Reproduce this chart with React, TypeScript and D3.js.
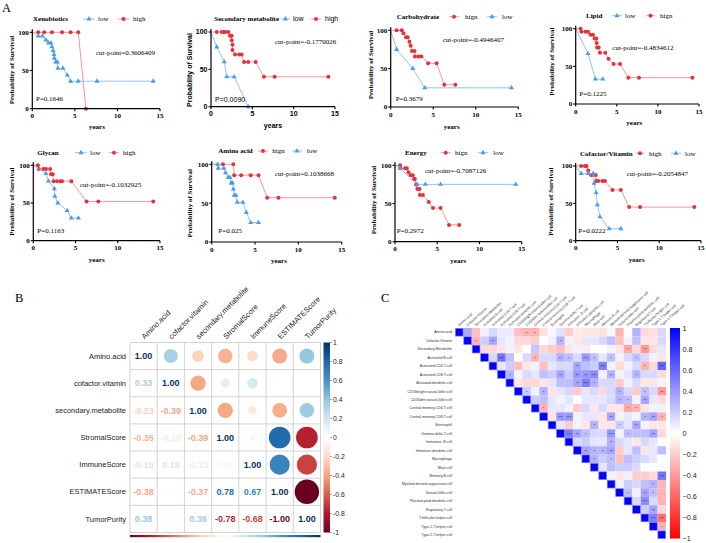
import React from 'react';
import * as d3 from 'd3';

// ================= Panel A: Kaplan-Meier data =================
const kmTitles = ["Xenobiotics", "Secondary metabolite", "Carbohydrate", "Lipid", "Glycan", "Amino acid", "Energy", "Cofactor/Vitamin"];
const kmCutpoints = ["cut-point=0.3606409", "cut-point=-0.1770026", "cut-point=-0.4946407", "cut-point=-0.4834612", "cut-point=-0.1032925", "cut-point=0.1038668", "cut-point=-0.7087126", "cut-point=-0.2054847"];
const kmPvalues = ["P=0.1646", "P=0.0090", "P=0.3679", "P=0.1225", "P=0.1163", "P=0.025", "P=0.2972", "P=0.0222"];
const kmHighLabels = ["high", "high", "hign", "hign", "high", "hign", "hign", "high"];
const kmLegendOrder = [["low", "high"], ["low", "high"], ["high", "low"], ["low", "high"], ["low", "high"], ["high", "low"], ["high", "low"], ["high", "low"]];
const kmYTicks = [0, 50, 100];
const kmXTicks = [0, 5, 10, 15];

const kmHigh: number[][][] = [
  [[0, 100], [0.7, 100], [1.4, 100], [2.3, 100], [3.5, 100], [4.5, 100], [5.4, 100], [6.3, 0]],
  [[0, 100], [0.7, 100], [1.3, 100], [1.5, 100], [1.7, 100], [2.1, 100], [2.3, 95], [2.5, 95], [2.5, 89], [2.6, 83], [2.6, 76], [2.9, 70], [3.4, 70], [3.7, 70], [4.0, 60], [4.5, 60], [5.4, 60], [6.4, 40], [7.7, 40], [14.2, 40]],
  [[0, 100], [0.7, 100], [1.3, 100], [1.5, 96], [1.8, 91], [2.0, 91], [2.2, 85], [2.35, 80], [2.5, 73], [2.8, 73], [2.85, 66], [3.25, 66], [3.6, 66], [4.4, 57], [5.4, 57], [6.3, 29], [7.6, 29]],
  [[0, 100], [0.6, 100], [0.7, 96], [1.2, 96], [1.5, 96], [1.8, 92], [2.1, 92], [2.3, 87], [2.5, 87], [2.55, 81], [2.6, 75], [2.8, 75], [2.95, 68], [3.6, 68], [4.0, 60], [4.6, 53], [5.4, 53], [6.4, 35], [7.7, 35], [14.2, 35]],
  [[0, 100], [0.55, 100], [0.65, 95], [1.2, 95], [1.5, 95], [2.0, 95], [2.1, 88], [2.3, 88], [2.4, 79], [2.8, 79], [3.2, 79], [3.4, 79], [4.5, 79], [6.3, 52], [7.7, 52], [14.2, 52]],
  [[0, 100], [1.3, 100], [2.5, 100], [2.6, 86], [3.4, 86], [4.5, 86], [5.4, 86], [6.4, 57], [7.7, 57], [14.2, 57]],
  [[0, 100], [0.6, 100], [0.65, 96], [1.2, 96], [1.4, 96], [1.6, 91], [1.85, 87], [2.1, 87], [2.25, 82], [2.35, 82], [2.5, 75], [2.55, 75], [2.65, 69], [2.9, 69], [2.95, 61], [3.3, 61], [4.0, 52], [4.5, 44], [5.4, 44], [6.4, 22], [7.6, 22]],
  [[0, 100], [0.65, 100], [1.1, 100], [1.3, 100], [1.5, 94], [1.85, 88], [2.1, 88], [2.4, 88], [2.45, 80], [2.7, 80], [3.2, 80], [3.5, 80], [4.4, 68], [5.4, 68], [6.4, 45], [7.7, 45], [14.2, 45]],
];
const kmLow: number[][][] = [
  [[0, 100], [0.7, 95], [1.2, 95], [1.6, 90], [1.9, 86], [2.2, 86], [2.3, 81], [2.45, 76], [2.55, 71], [2.6, 66], [2.75, 61], [2.95, 61], [3.0, 53], [3.6, 53], [4.1, 44], [4.5, 36], [5.4, 36], [7.6, 36], [14.2, 36]],
  [[0, 100], [0.7, 80], [1.6, 60], [1.9, 40], [2.8, 40], [4.5, 0]],
  [[0, 100], [0.7, 75], [2.6, 50], [4.0, 25], [14.2, 25]],
  [[0, 100], [1.5, 67], [2.4, 33], [3.3, 33]],
  [[0, 100], [1.5, 89], [1.8, 79], [2.5, 69], [2.55, 59], [2.9, 50], [4.0, 40], [4.5, 30], [5.35, 30]],
  [[0, 100], [0.7, 100], [0.75, 95], [1.4, 95], [1.6, 89], [1.9, 83], [2.1, 83], [2.25, 76], [2.4, 76], [2.5, 68], [2.6, 60], [2.8, 60], [2.95, 51], [3.6, 51], [4.0, 38], [4.5, 25], [5.4, 25]],
  [[0, 100], [0.6, 96], [2.6, 75], [3.6, 75], [5.4, 75], [14.3, 75]],
  [[0, 100], [0.65, 90], [1.5, 90], [2.1, 90], [2.2, 77], [2.45, 64], [2.6, 48], [2.9, 32], [4.0, 16], [5.4, 16]],
];

// ================= Panel B: correlation matrix =================
const bVars = ["Amino.acid", "cofactor.vitamin", "secondary.metabolite", "StromalScore", "ImmuneScore", "ESTIMATEScore", "TumorPurity"];
const bCorr: number[][] = [
  [1, 0.33, -0.23, -0.35, -0.19, -0.38, 0.38],
  [0.33, 1, -0.39, -0.13, 0.18, 0.02, -0.01],
  [-0.23, -0.39, 1, -0.39, -0.12, -0.37, 0.36],
  [-0.35, -0.13, -0.39, 1, 0.06, 0.78, -0.78],
  [-0.19, 0.18, -0.12, 0.06, 1, 0.67, -0.68],
  [-0.38, 0.02, -0.37, 0.78, 0.67, 1, -1.0],
  [0.38, -0.01, 0.36, -0.78, -0.68, -1.0, 1],
];
const bLegendTicks = [1, 0.8, 0.6, 0.4, 0.2, 0, -0.2, -0.4, -0.6, -0.8, -1];
const bPalette = ["#67001F", "#B2182B", "#D6604D", "#F4A582", "#FDDBC7", "#FFFFFF", "#D1E5F0", "#92C5DE", "#4393C3", "#2166AC", "#053061"];

// ================= Panel C: metabolism vs immune cells =================
const cVars = ["Amino.acid", "Cofactor.Vitamin", "Secondary.Metabolite", "Activated.B.cell", "Activated.CD4.T.cell", "Activated.CD8.T.cell", "Activated.dendritic.cell", "CD56bright.natural.killer.cell", "CD56dim.natural.killer.cell", "Central.memory.CD4.T.cell", "Central.memory.CD8.T.cell", "Eosinophil", "Gamma.delta.T.cell", "Immature..B.cell", "Immature.dendritic.cell", "Macrophage", "Mast.cell", "Memory.B.cell", "Myeloid.derived.suppressor.cell", "Natural.killer.cell", "Plasmacytoid.dendritic.cell", "Regulatory.T.cell", "T.follicular.helper.cell", "Type.1.T.helper.cell", "Type.2.T.helper.cell"];
// values to the right of the diagonal, row by row
const cUpper: number[][] = [
  [0.33, -0.25, 0.06, 0.15, 0.08, 0.08, -0.25, -0.3, -0.3, -0.12, 0.03, 0.12, -0.2, -0.08, -0.1, -0.1, -0.12, 0.03, -0.3, 0, 0.3, -0.15, -0.12, 0.15],
  [-0.3, 0.2, 0.35, 0.1, 0.05, -0.15, -0.15, -0.2, 0, 0.05, 0.3, 0.05, -0.1, 0.1, 0.1, 0.15, 0.25, -0.25, 0.05, 0.25, -0.1, -0.1, 0.15],
  [-0.15, -0.15, -0.1, 0.05, -0.1, 0, 0.22, -0.15, -0.2, -0.25, -0.1, 0.05, -0.08, 0, 0, 0.05, -0.1, -0.35, -0.15, -0.4, -0.15, 0.1],
  [0.15, 0.55, 0.25, 0, 0.15, -0.3, 0.15, 0.15, 0.3, 0.25, 0.15, 0.4, 0.25, 0.1, 0.25, 0.05, 0.15, 0.25, 0.15, 0.05, -0.1],
  [0.1, 0.2, -0.25, -0.1, 0.05, -0.25, 0.1, 0.15, 0.15, 0.35, 0.25, 0.2, 0.5, 0.05, -0.15, 0.05, 0.15, -0.3, -0.15, 0.6],
  [0.3, 0.05, 0.15, 0.1, 0.25, 0.2, 0.35, 0.2, 0.4, 0.4, 0.45, 0.05, 0.3, 0.05, 0.1, 0.3, 0.15, 0.15, -0.15],
  [-0.1, -0.15, -0.15, -0.1, 0.1, 0.25, 0.25, 0.35, 0.5, 0.3, 0.15, 0.15, -0.2, 0.05, 0.15, -0.1, -0.1, 0.05],
  [0.2, 0.05, 0.3, -0.1, 0.1, 0.15, -0.2, 0.1, 0.15, -0.15, 0.15, 0.3, 0.15, -0.2, 0.25, 0.15, -0.4],
  [0.2, 0.25, 0.1, 0.05, 0.1, 0, 0.1, 0.1, 0.1, 0.15, 0.3, 0.25, 0.05, 0.35, 0.1, -0.15],
  [-0.3, 0.1, 0.1, 0.05, -0.2, 0.15, -0.1, 0.15, -0.1, -0.1, -0.35, -0.3, -0.1, 0.05, 0.05],
  [-0.1, 0.4, 0.4, 0.05, 0.1, 0.1, -0.1, 0.35, 0.05, 0.1, 0.05, 0.3, 0.35, -0.3],
  [0.1, -0.2, 0.05, -0.1, 0.3, -0.1, -0.1, 0.2, 0.1, 0.35, 0.05, -0.1, -0.1],
  [0.5, 0.35, 0.25, 0.15, 0.15, 0.4, 0.05, 0.25, 0.25, 0.25, 0.35, -0.15],
  [0.15, 0.2, 0.1, 0.1, 0.3, 0.15, 0.1, -0.1, 0.15, 0.1, 0],
  [0.35, 0.3, 0.3, 0.35, -0.2, 0.1, 0.25, -0.1, 0.1, 0.25],
  [0.3, 0.2, 0.25, -0.25, 0.25, 0.2, 0.15, 0.1, 0],
  [0.1, 0.25, 0.2, 0.2, 0.15, 0, 0, 0.02],
  [0.05, -0.1, 0.05, -0.2, -0.2, -0.15, 0.55],
  [0.05, 0.2, 0.15, 0.25, 0.3, -0.3],
  [0.25, 0.05, 0.35, 0.25, -0.3],
  [0.15, 0.45, 0.15, -0.3],
  [0.2, 0.35, -0.15],
  [0.5, -0.55],
  [-0.3],
  [],
];
// significance stars, same layout as cUpper
const cStars: number[][] = [
  [0, 0, 0, 0, 0, 0, 0, 1, 1, 0, 0, 0, 0, 0, 0, 0, 0, 0, 0, 0, 0, 0, 0, 0],
  [1, 0, 2, 0, 0, 0, 0, 0, 0, 0, 1, 0, 0, 0, 0, 0, 0, 0, 0, 0, 0, 0, 0],
  [0, 0, 0, 0, 0, 0, 0, 0, 0, 0, 0, 0, 0, 0, 0, 0, 0, 1, 0, 2, 0, 0],
  [0, 3, 0, 0, 0, 1, 0, 0, 2, 1, 0, 3, 1, 0, 1, 0, 0, 1, 0, 0, 0],
  [0, 0, 0, 0, 0, 0, 0, 0, 0, 2, 0, 0, 3, 0, 0, 0, 0, 1, 0, 3],
  [1, 0, 0, 0, 0, 0, 2, 0, 2, 2, 3, 0, 2, 0, 0, 1, 0, 0, 0],
  [0, 0, 0, 0, 0, 0, 0, 2, 3, 1, 0, 0, 0, 0, 0, 0, 0, 0],
  [1, 0, 1, 0, 0, 0, 0, 0, 0, 0, 0, 1, 0, 0, 1, 0, 2],
  [0, 0, 0, 0, 0, 0, 0, 0, 0, 0, 1, 1, 0, 2, 0, 0],
  [1, 0, 0, 0, 0, 0, 0, 0, 0, 0, 1, 1, 0, 0, 0],
  [0, 3, 3, 0, 0, 0, 0, 2, 0, 0, 0, 1, 2, 1],
  [0, 0, 0, 0, 1, 0, 0, 1, 0, 2, 0, 0, 0],
  [3, 2, 1, 0, 0, 3, 0, 1, 0, 0, 2, 0],
  [0, 0, 0, 0, 2, 0, 0, 0, 0, 0, 0],
  [2, 1, 1, 2, 0, 0, 0, 0, 0, 0],
  [1, 0, 1, 0, 0, 0, 0, 0, 0],
  [0, 0, 0, 0, 0, 0, 0, 0],
  [0, 0, 0, 0, 0, 0, 3],
  [0, 0, 0, 0, 1, 0],
  [1, 0, 2, 1, 0],
  [0, 3, 0, 0],
  [0, 2, 0],
  [3, 3],
  [1],
  [],
];
const cLegendTicks = [1, 0.8, 0.6, 0.4, 0.2, 0, -0.2, -0.4, -0.6, -0.8, -1];

// ================= layout (positions only) =================
const kmLayout = [
  { x0: 32.3, x15: 160, y0: 108.7, y100: 32.3, tX: 33, tY: 19, leg: [[83, 95, 98], [118, 129, 133]], cX: 96, cY: 53, pX: 36, pY: 99, ytX: 12, ytY: 70, yrX: 97, yrY: 127, sans: false },
  { x0: 211, x15: 335, y0: 106.7, y100: 32, tX: 214.3, tY: 19, leg: [[281, 290, 293], [311, 321, 325]], cX: 275, cY: 41.7, pX: 215, pY: 99.3, ytX: 190, ytY: 70, yrX: 273, yrY: 126, sans: true },
  { x0: 390.7, x15: 518.3, y0: 107, y100: 30.3, tX: 396.7, tY: 16.7, leg: [[449, 459, 465], [487, 497, 502]], cX: 442.7, cY: 39.3, pX: 395.7, pY: 99, ytX: 370.7, ytY: 65, yrX: 451.7, yrY: 126.7, sans: false },
  { x0: 575.7, x15: 699, y0: 104, y100: 28.7, tX: 586, tY: 15.7, leg: [[612, 622, 625], [646, 655, 660]], cX: 612.3, cY: 47.3, pX: 579.3, pY: 93.3, ytX: 551.7, ytY: 61.7, yrX: 634.3, yrY: 122.7, sans: false },
  { x0: 33.3, x15: 160, y0: 240.7, y100: 165.3, tX: 37.3, tY: 152.7, leg: [[75, 87, 90], [109, 119, 123]], cX: 80, cY: 184.3, pX: 37.3, pY: 230.7, ytX: 11.7, ytY: 201.7, yrX: 96.7, yrY: 260, sans: false },
  { x0: 211.7, x15: 341.7, y0: 242, y100: 164.3, tX: 218.3, tY: 151, leg: [[258, 268, 272.3], [292, 302, 306.7]], cX: 275, cY: 174, pX: 218.3, pY: 230.7, ytX: 190, ytY: 203.3, yrX: 279, yrY: 260.7, sans: false },
  { x0: 395, x15: 521.7, y0: 241.7, y100: 165.3, tX: 405, tY: 152.7, leg: [[440.7, 450.7, 455], [478, 488, 493.3]], cX: 425, cY: 171, pX: 396.7, pY: 230.7, ytX: 374, ytY: 200, yrX: 458.3, yrY: 260.7, sans: false },
  { x0: 575.7, x15: 701, y0: 240.7, y100: 166, tX: 580, tY: 153.3, leg: [[635.7, 644.3, 649], [671, 681, 685]], cX: 626.7, cY: 174, pX: 578.3, pY: 230.7, ytX: 551, ytY: 201.7, yrX: 636.7, yrY: 260, sans: false },
];

const SERIF = "'Liberation Serif', 'Times New Roman', serif";
const SANS = "'Liberation Sans', Arial, sans-serif";
const RED_M = "#E8303A";
const RED_L = "#F08A8E";
const BLUE_M = "#4A9CE6";
const BLUE_L = "#86BEEF";

const triPath = d3.symbol().type(d3.symbolTriangle).size(11)() as string;

function Marker({ kind, x, y }: { kind: string; x: number; y: number }) {
  if (kind === 'high') return <circle cx={x} cy={y} r={2} fill={RED_M} />;
  return <path d={triPath} transform={`translate(${x},${y})`} fill={BLUE_M} />;
}

function KM({ i }: { i: number }) {
  const L = kmLayout[i];
  const x = d3.scaleLinear().domain([0, 15]).range([L.x0, L.x15]);
  const y = d3.scaleLinear().domain([0, 100]).range([L.y0, L.y100]);
  const line = d3.line<number[]>().x(d => x(d[0])).y(d => y(d[1]));
  const axFont = L.sans ? SANS : SERIF;
  const series = [
    { kind: 'high', data: kmHigh[i], color: RED_L },
    { kind: 'low', data: kmLow[i], color: BLUE_L },
  ];
  return (
    <g>
      {series.map(s => (
        <g key={s.kind}>
          <path d={line(s.data) as string} fill="none" stroke={s.color} strokeWidth={0.9} />
          {s.data.filter(d => d[0] > 0).map((d, k) => <Marker key={k} kind={s.kind} x={x(d[0])} y={y(d[1])} />)}
        </g>
      ))}
      {/* axes */}
      <line x1={L.x0} x2={L.x0} y1={L.y0} y2={y(104)} stroke="#000" strokeWidth={1.2} />
      <line x1={L.x0} x2={L.x15} y1={L.y0} y2={L.y0} stroke="#000" strokeWidth={1.2} />
      {kmYTicks.map(t => (
        <g key={'y' + t}>
          <line x1={L.x0 - 2.5} x2={L.x0} y1={y(t)} y2={y(t)} stroke="#000" strokeWidth={1.1} />
          <text x={L.x0 - 3.5} y={y(t)} dy="0.35em" textAnchor="end" fontFamily={axFont} fontWeight="bold" fontSize={7}>{t}</text>
        </g>
      ))}
      {kmXTicks.map(t => (
        <g key={'x' + t}>
          <line x1={x(t)} x2={x(t)} y1={L.y0} y2={L.y0 + 2.5} stroke="#000" strokeWidth={1.1} />
          <text x={x(t)} y={L.y0 + 9.5} textAnchor="middle" fontFamily={axFont} fontWeight="bold" fontSize={7}>{t}</text>
        </g>
      ))}
      <text transform={`translate(${L.ytX},${L.ytY}) rotate(-90)`} dy="0.35em" textAnchor="middle" fontFamily={axFont} fontWeight="bold" fontSize={7}>Probability of Survival</text>
      <text x={L.yrX} y={L.yrY} dy="0.35em" textAnchor="middle" fontFamily={axFont} fontWeight="bold" fontSize={7}>years</text>
      <text x={L.tX} y={L.tY} dy="0.35em" fontFamily={SERIF} fontWeight="bold" fontSize={7}>{kmTitles[i]}</text>
      {kmLegendOrder[i].map((kind, k) => {
        const [a, b, tx] = L.leg[k];
        return (
          <g key={kind}>
            <line x1={a} x2={b} y1={L.tY} y2={L.tY} stroke={kind === 'high' ? RED_L : BLUE_L} strokeWidth={0.9} />
            <Marker kind={kind} x={(a + b) / 2} y={L.tY} />
            <text x={tx} y={L.tY} dy="0.35em" fontFamily={axFont} fontSize={7}>{kind === 'high' ? kmHighLabels[i] : 'low'}</text>
          </g>
        );
      })}
      <text x={L.cX} y={L.cY} dy="0.35em" fontFamily={SERIF} fontSize={7}>{kmCutpoints[i]}</text>
      <text x={L.pX} y={L.pY} dy="0.35em" fontFamily={axFont} fontSize={7}>{kmPvalues[i]}</text>
    </g>
  );
}

function PanelB() {
  const xb = d3.scaleBand<string>().domain(bVars).range([130, 320.5]);
  const yb = d3.scaleBand<string>().domain(bVars).range([342.5, 532.5]);
  const col = d3.scaleLinear<string>().domain(d3.range(11).map(k => -1 + k * 0.2)).range(bPalette).interpolate(d3.interpolateRgb);
  const cs = xb.bandwidth();
  const leg = d3.scaleLinear().domain([-1, 1]).range([532.5, 342.5]);
  return (
    <g>
      <defs>
        <linearGradient id="bgradV" x1="0" y1="1" x2="0" y2="0">
          {bPalette.map((c, k) => <stop key={k} offset={k / 10} stopColor={c} />)}
        </linearGradient>
        <linearGradient id="bgradH" x1="0" y1="0" x2="1" y2="0">
          {bPalette.map((c, k) => <stop key={k} offset={k / 10} stopColor={c} />)}
        </linearGradient>
      </defs>
      <rect x={130} y={342.5} width={190.5} height={190} fill="#fff" />
      {bVars.map((r, i) => bVars.map((c, j) => {
        const v = bCorr[i][j];
        const cx = (xb(c) as number) + cs / 2;
        const cy = (yb(r) as number) + yb.bandwidth() / 2;
        if (j > i) {
          return <circle key={`${i}-${j}`} cx={cx} cy={cy} r={0.45 * Math.sqrt(Math.abs(v)) * cs} fill={col(v)} />;
        }
        return <text key={`${i}-${j}`} x={cx} y={cy} dy="0.36em" textAnchor="middle" fontFamily={SANS} fontWeight="bold" fontSize={9} fill={col(v)}>{v.toFixed(2)}</text>;
      }))}
      {d3.range(8).map(k => (
        <g key={'g' + k}>
          <line x1={130 + k * cs} x2={130 + k * cs} y1={342.5} y2={532.5} stroke="#C8C8C8" strokeWidth={0.8} />
          <line x1={130} x2={320.5} y1={342.5 + k * yb.bandwidth()} y2={342.5 + k * yb.bandwidth()} stroke="#C8C8C8" strokeWidth={0.8} />
        </g>
      ))}
      {bVars.map(v => (
        <text key={'r' + v} x={126} y={(yb(v) as number) + yb.bandwidth() / 2} dy="0.35em" textAnchor="end" fontFamily={SANS} fontSize={7.5} fill="#222">{v}</text>
      ))}
      {bVars.map(v => (
        <text key={'c' + v} transform={`translate(${(xb(v) as number) + cs / 2 + 1},${339.5}) rotate(-45)`} fontFamily={SANS} fontSize={7.5} fill="#222">{v}</text>
      ))}
      <rect x={323.5} y={342.5} width={6.5} height={190} fill="url(#bgradV)" />
      {bLegendTicks.map(t => (
        <g key={'l' + t}>
          <line x1={330} x2={332} y1={leg(t)} y2={leg(t)} stroke="#444" strokeWidth={0.5} />
          <text x={333} y={leg(t)} dy="0.35em" fontFamily={SANS} fontSize={6.8} fill="#222">{String(t)}</text>
        </g>
      ))}
      <rect x={130} y={535} width={190.5} height={2.2} fill="url(#bgradH)" />
    </g>
  );
}

function PanelC() {
  const xc = d3.scaleBand<string>().domain(cVars).range([455, 666]);
  const yc = d3.scaleBand<string>().domain(cVars).range([328, 539]);
  const cs = xc.bandwidth();
  const col = d3.scaleLinear<string>().domain([-1, 0, 1]).range(["#FF0000", "#FFFFFF", "#0000FF"]);
  const leg = d3.scaleLinear().domain([-1, 1]).range([538.5, 328]);
  const fmt = d3.format("");
  return (
    <g>
      <defs>
        <linearGradient id="cgrad" x1="0" y1="0" x2="0" y2="1">
          <stop offset="0" stopColor="#0000FF" />
          <stop offset="0.5" stopColor="#FFFFFF" />
          <stop offset="1" stopColor="#FF0000" />
        </linearGradient>
      </defs>
      {cVars.map((r, i) => (
        <g key={'row' + i}>
          {cUpper[i].map((v, k) => {
            const j = i + 1 + k;
            const x = xc(cVars[j]) as number;
            const y = yc(r) as number;
            const st = cStars[i][k];
            return (
              <g key={k}>
                <rect x={x} y={y} width={cs + 0.05} height={cs + 0.05} fill={col(v)} />
                {st > 0 && <text x={x + cs / 2} y={y + cs / 2} dy="0.55em" textAnchor="middle" fontFamily={SANS} fontSize={4.2} fill="#2a2a40">{'*'.repeat(st)}</text>}
              </g>
            );
          })}
        </g>
      ))}
      {cVars.map((r, i) => {
        const x = xc(r) as number;
        const y = yc(r) as number;
        return (
          <g key={'d' + i}>
            <rect x={x + 0.35} y={y + 0.35} width={cs - 0.7} height={cs - 0.7} fill="#0000FF" stroke="#7A7AFF" strokeWidth={0.7} />
            <text x={x + cs / 2} y={y + cs / 2} dy="0.55em" textAnchor="middle" fontFamily={SANS} fontSize={4.2} fill="#2a2a40">***</text>
          </g>
        );
      })}
      {cVars.map(v => (
        <text key={'r' + v} x={452} y={(yc(v) as number) + cs / 2} dy="0.35em" textAnchor="end" fontFamily={SANS} fontSize={3.6} fill="#333">{v}</text>
      ))}
      {cVars.map(v => (
        <text key={'c' + v} transform={`translate(${(xc(v) as number) + cs / 2},${326.5}) rotate(-42)`} fontFamily={SANS} fontSize={3.6} fill="#333">{v}</text>
      ))}
      <rect x={670} y={328} width={10} height={210.5} fill="url(#cgrad)" />
      {cLegendTicks.map(t => (
        <text key={'l' + t} x={682.5} y={leg(t)} dy="0.35em" fontFamily={SANS} fontSize={7.2} fill="#222">{fmt(t)}</text>
      ))}
    </g>
  );
}

export default function App() {
  return (
    <svg width={706} height={543} viewBox="0 0 706 543" style={{ position: 'absolute', left: 0, top: 0, background: '#fff' }}>
      <rect x={0} y={0} width={706} height={543} fill="#fff" />
      <text x={2} y={12} fontFamily={SERIF} fontSize={12.5}>A</text>
      <text x={15} y={302} fontFamily={SERIF} fontSize={12.5}>B</text>
      <text x={381} y={302} fontFamily={SERIF} fontSize={12.5}>C</text>
      {kmTitles.map((_, i) => <KM key={i} i={i} />)}
      <PanelB />
      <PanelC />
    </svg>
  );
}
